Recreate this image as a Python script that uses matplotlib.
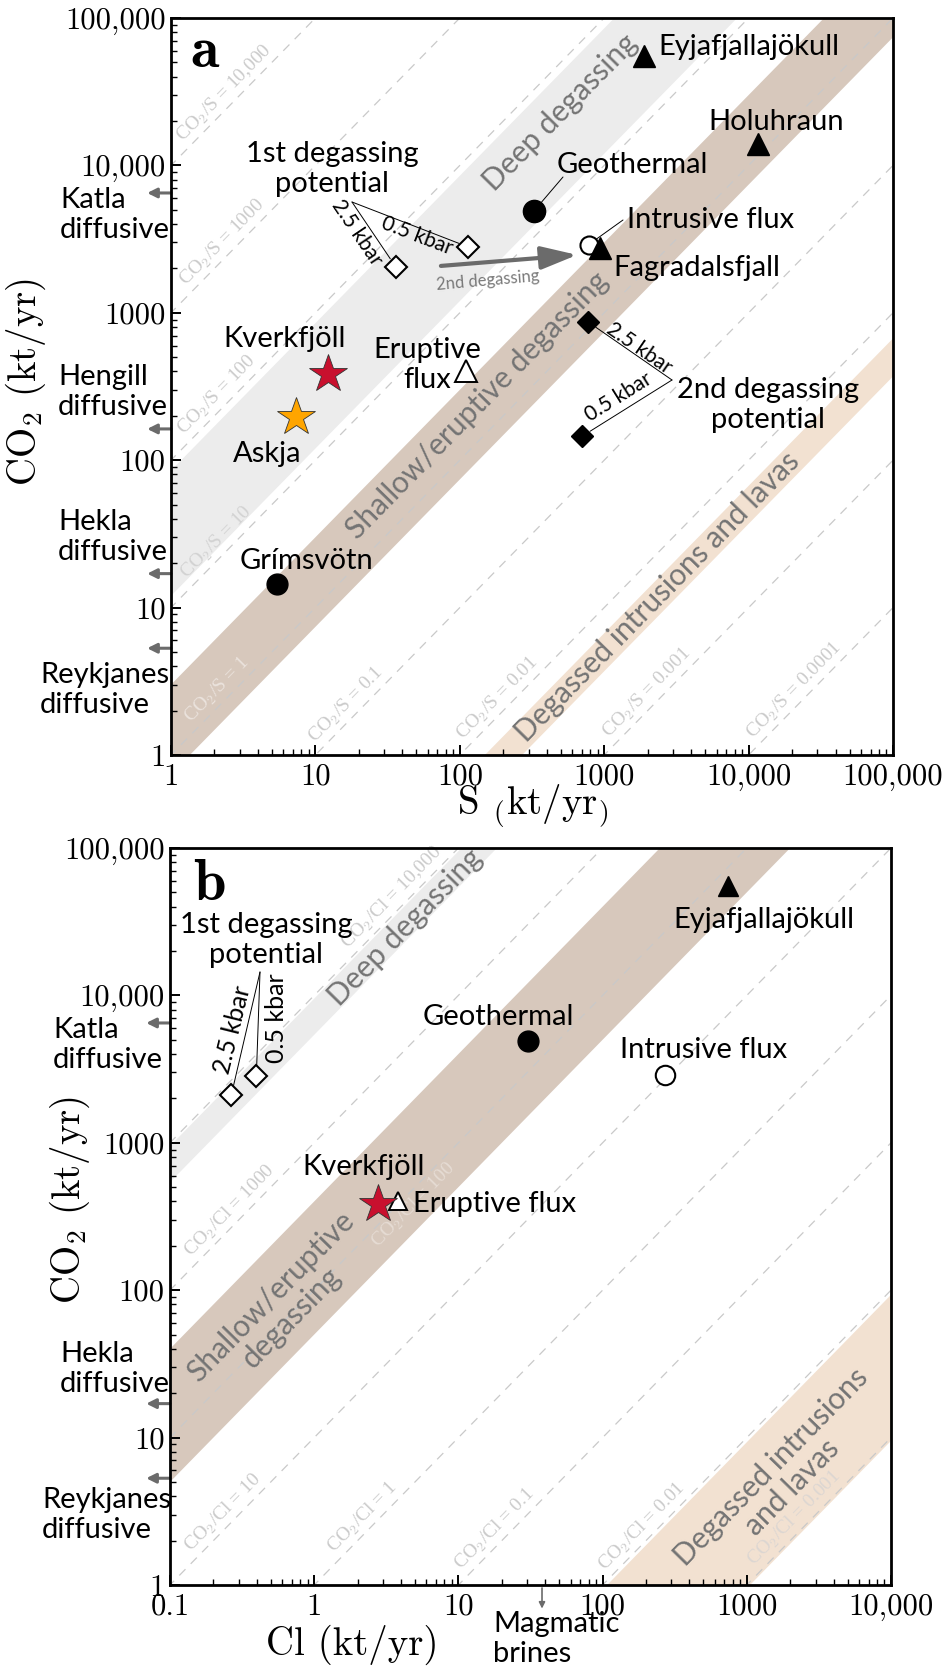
import numpy as np
import matplotlib
matplotlib.use("Agg")
import matplotlib.pyplot as plt
from matplotlib.transforms import Affine2D
from matplotlib.ticker import FixedLocator, FixedFormatter, LogLocator, NullFormatter

plt.rcParams["mathtext.fontset"] = "cm"
plt.rcParams["axes.unicode_minus"] = False

# ---------------- data : panel a (CO2 vs S, kt/yr) ----------------
a_volcano_names = ["Eyjafjallajökull", "Holuhraun", "Fagradalsfjall"]
a_volcano_S = [1900, 11600, 930]
a_volcano_CO2 = [55000, 14000, 2750]
a_geothermal_S, a_geothermal_CO2 = 326, 4900
a_intrusive_S, a_intrusive_CO2 = 780, 2900
a_eruptive_S, a_eruptive_CO2 = 110, 400
a_grimsvotn_S, a_grimsvotn_CO2 = 5.4, 14.5
a_kverkfjoll_S, a_kverkfjoll_CO2 = 12.2, 385
a_askja_S, a_askja_CO2 = 7.3, 195
a_first_pot_S = [36, 114]          # 2.5 kbar, 0.5 kbar
a_first_pot_CO2 = [2050, 2800]
a_second_pot_S = [770, 700]        # 2.5 kbar, 0.5 kbar
a_second_pot_CO2 = [870, 145]
a_diffusive_names = ["Katla\ndiffusive", "Hengill\ndiffusive",
                     "Hekla\ndiffusive", "Reykjanes\ndiffusive"]
a_diffusive_CO2 = [6500, 163, 17, 5.3]
a_ratios = [1e4, 1e3, 1e2, 10, 1, 0.1, 0.01, 0.001, 0.0001]
a_ratio_labels = ["10,000", "1000", "100", "10", "1", "0.1", "0.01", "0.001", "0.0001"]
a_band_deep = [12, 85]
a_band_shallow = [0.74, 3.0]
a_band_degassed = [0.0037, 0.0067]
a_arrow_start = (74, 2080)
a_arrow_end = (650, 2470)

# ---------------- data : panel b (CO2 vs Cl, kt/yr) ----------------
b_eyja_Cl, b_eyja_CO2 = 745, 55000
b_geothermal_Cl, b_geothermal_CO2 = 30.6, 4900
b_intrusive_Cl, b_intrusive_CO2 = 270, 2900
b_kverkfjoll_Cl, b_kverkfjoll_CO2 = 2.76, 385
b_eruptive_Cl, b_eruptive_CO2 = 3.8, 400
b_first_pot_Cl = [0.266, 0.397]    # 2.5 kbar, 0.5 kbar
b_first_pot_CO2 = [2100, 2850]
b_diffusive_names = ["Katla\ndiffusive", "Hekla\ndiffusive", "Reykjanes\ndiffusive"]
b_diffusive_CO2 = [6500, 17, 5.3]
b_brines_Cl = 38
b_ratios = [1e4, 1e3, 1e2, 10, 1, 0.1, 0.01, 0.001]
b_ratio_labels = ["10,000", "1000", "100", "10", "1", "0.1", "0.01", "0.001"]
b_band_deep = [5400, 9500]
b_band_shallow = [50, 400]
b_band_degassed = [0.00095, 0.0093]

y_ticks = [1, 10, 100, 1000, 1e4, 1e5]
y_ticklabels = ["1", "10", "100", "1000", "10,000", "100,000"]
a_x_ticks = [1, 10, 100, 1000, 1e4, 1e5]
a_x_ticklabels = ["1", "10", "100", "1000", "10,000", "100,000"]
b_x_ticks = [0.1, 1, 10, 100, 1000, 1e4]
b_x_ticklabels = ["0.1", "1", "10", "100", "1000", "10,000"]

# ---------------- styling ----------------
SANS = ["Lato", "DejaVu Sans"]
SERIF = ["cmr10", "DejaVu Serif"]
RSERIF = ["Liberation Serif", "DejaVu Serif"]
C_DEEP = "#ececec"
C_SHALLOW = "#d7c8bc"
C_DEGASSED = "#f2e1d1"
C_DASH = "#c9c9c9"
C_BANDTXT = "#747474"
C_ARROW = "#6b6b6b"
C_RLBL = "#cbcbcb"
LBL = 21
BANDSZ = 21.5

W, H = 944, 1679
fig = plt.figure(figsize=(W / 100, H / 100), dpi=100)
pix = Affine2D().scale(1 / W, -1 / H).translate(0, 1) + fig.transFigure


def box(l, t, r, b):
    return [l / W, 1 - b / H, (r - l) / W, (b - t) / H]


def ptext(x, y, s, **kw):
    # for multi-line text with va="baseline", y is the baseline of the LAST line
    kw.setdefault("family", SANS)
    kw.setdefault("fontsize", LBL)
    kw.setdefault("color", "black")
    return fig.text(x, y, s, transform=pix, **kw)


axA = fig.add_axes(box(171, 18, 893, 755))
axB = fig.add_axes(box(170, 848, 891, 1585))


def setup(ax, xlim, xticks, xlabels):
    ax.set_xscale("log")
    ax.set_yscale("log")
    ax.set_xlim(*xlim)
    ax.set_ylim(1, 1e5)
    ax.xaxis.set_major_locator(FixedLocator(xticks))
    ax.xaxis.set_major_formatter(FixedFormatter(xlabels))
    ax.yaxis.set_major_locator(FixedLocator(y_ticks))
    ax.yaxis.set_major_formatter(FixedFormatter(y_ticklabels))
    ax.xaxis.set_minor_locator(LogLocator(base=10, subs=np.arange(2, 10), numticks=20))
    ax.yaxis.set_minor_locator(LogLocator(base=10, subs=np.arange(2, 10), numticks=20))
    ax.xaxis.set_minor_formatter(NullFormatter())
    ax.yaxis.set_minor_formatter(NullFormatter())
    ax.tick_params(which="both", direction="in", top=False, right=False,
                   labelfontfamily="cmr10", labelsize=22, colors="black")
    ax.tick_params(which="major", length=7, width=1.4)
    ax.tick_params(which="minor", length=4.5, width=1.0)
    ax.tick_params(axis="x", pad=6)
    ax.tick_params(axis="y", pad=4)
    for s in ax.spines.values():
        s.set_linewidth(2.0)
        s.set_zorder(10)


setup(axA, (1, 1e5), a_x_ticks, a_x_ticklabels)
setup(axB, (0.1, 1e4), b_x_ticks, b_x_ticklabels)


def line_angle(ax):
    p0 = ax.transData.transform((1, 1))
    p1 = ax.transData.transform((10, 10))
    return np.degrees(np.arctan2(p1[1] - p0[1], p1[0] - p0[0]))


XS = np.array([1e-4, 1e7])


def bands_and_lines(ax, bands, ratios, labels, anchors, offsets, lcolors, name):
    for (lo, hi), c in bands:
        ax.fill_between(XS, lo * XS, hi * XS, color=c, lw=0, zorder=0.5)
    ang = line_angle(ax)
    for r in ratios:
        ax.plot(XS, r * XS, color=C_DASH, lw=0.9, ls=(0, (7, 6)), zorder=1)
    for r, lab, xa, off, lc in zip(ratios, labels, anchors, offsets, lcolors):
        ax.annotate(r"CO$_2$/" + name + " = " + lab, xy=(xa, r * xa), xycoords="data",
                    xytext=off, textcoords="offset points", rotation=ang,
                    rotation_mode="anchor", ha="center", va="center",
                    family=RSERIF, fontsize=14, color=lc, zorder=1.5,
                    annotation_clip=False)
    return ang


# ---------------- panel a ----------------
angA = bands_and_lines(
    axA,
    [(a_band_deep, C_DEEP), (a_band_shallow, C_SHALLOW), (a_band_degassed, C_DEGASSED)],
    a_ratios, a_ratio_labels,
    [2.7, 2.6, 2.4, 2.4, 2.4, 19, 210, 2300, 24000],
    [(-6.5, 6.5)] * 9,
    [C_RLBL, C_RLBL, C_RLBL, "#d2d2d2", "#ebe3dd", C_RLBL, C_RLBL, C_RLBL, C_RLBL],
    "S")

ptext(560, 112, "Deep degassing", rotation=angA, rotation_mode="anchor",
      ha="center", va="center", fontsize=BANDSZ, color=C_BANDTXT)
ptext(477, 405, "Shallow/eruptive degassing", rotation=angA, rotation_mode="anchor",
      ha="center", va="center", fontsize=BANDSZ, color=C_BANDTXT)
ptext(657, 597, "Degassed intrusions and lavas", rotation=angA, rotation_mode="anchor",
      ha="center", va="center", fontsize=BANDSZ, color=C_BANDTXT)

# connectors (panel a)
conn = dict(arrowstyle="-", color="black", lw=0.7, shrinkA=0)
for s, c in zip(a_first_pot_S, a_first_pot_CO2):
    axA.annotate("", xy=(s, c), xytext=(352, 202), textcoords=pix,
                 arrowprops=dict(conn, shrinkB=7), zorder=2.5)
for s, c in zip(a_second_pot_S, a_second_pot_CO2):
    axA.annotate("", xy=(s, c), xytext=(672, 380), textcoords=pix,
                 arrowprops=dict(conn, shrinkB=7), zorder=2.5)
axA.annotate("", xy=(a_geothermal_S, a_geothermal_CO2), xytext=(563, 177), textcoords=pix,
             arrowprops=dict(conn, shrinkB=7), zorder=2.5)
axA.annotate("", xy=(a_intrusive_S, a_intrusive_CO2), xytext=(623, 220), textcoords=pix,
             arrowprops=dict(conn, shrinkB=6), zorder=2.5)

# 2nd degassing arrow
axA.annotate("", xy=a_arrow_end, xytext=a_arrow_start,
             arrowprops=dict(arrowstyle="-|>,head_length=1.1,head_width=0.35",
                             color=C_ARROW, lw=3, mutation_scale=20,
                             shrinkA=0, shrinkB=0), zorder=3)
ptext(488, 281, "2nd degassing", rotation=5, rotation_mode="anchor",
      ha="center", va="center", fontsize=12, color="#7a7a7a")

# markers (panel a)
axA.plot(a_intrusive_S, a_intrusive_CO2, "o", ms=13, mfc="white", mec="black", mew=1.5, zorder=5)
axA.plot(a_volcano_S, a_volcano_CO2, "^", ms=16, color="black", ls="none", zorder=6)
axA.plot(a_geothermal_S, a_geothermal_CO2, "o", ms=16, color="black", zorder=5)
axA.plot(a_grimsvotn_S, a_grimsvotn_CO2, "o", ms=15, color="black", zorder=5)
axA.plot(a_eruptive_S, a_eruptive_CO2, "^", ms=16, mfc="white", mec="black", mew=1.4, zorder=5)
axA.plot(a_first_pot_S, a_first_pot_CO2, "D", ms=11.5, mfc="white", mec="black", mew=1.5,
         ls="none", zorder=5)
axA.plot(a_second_pot_S, a_second_pot_CO2, "D", ms=11.5, color="black", ls="none", zorder=5)
axA.plot(a_kverkfjoll_S, a_kverkfjoll_CO2, "*", ms=29, mfc="#c8102e", mec="#333333",
         mew=0.6, zorder=6)
axA.plot(a_askja_S, a_askja_CO2, "*", ms=29, mfc="#ffa500", mec="#333333", mew=0.6, zorder=6)

# diffusive arrows (panel a)
for v in a_diffusive_CO2:
    axA.annotate("", xy=(-0.033, v), xycoords=("axes fraction", "data"),
                 xytext=(0.0, v), textcoords=("axes fraction", "data"),
                 arrowprops=dict(arrowstyle="-|>", color=C_ARROW, lw=2.2,
                                 mutation_scale=14, shrinkA=0, shrinkB=0),
                 annotation_clip=False)

# labels (panel a)
ptext(190, 67, "a", family=["cmb10", "DejaVu Serif"], fontsize=42, va="baseline")
ptext(658, 55, a_volcano_names[0], va="baseline")
ptext(708, 130, a_volcano_names[1], va="baseline")
ptext(613, 276, a_volcano_names[2], va="baseline")
ptext(557, 173, "Geothermal", va="baseline")
ptext(627, 228, "Intrusive flux", va="baseline")
ptext(332, 192, "1st degassing\npotential", ha="center", va="baseline", multialignment="center")
ptext(768, 428, "2nd degassing\npotential", ha="center", va="baseline", multialignment="center")
ptext(223, 347, "Kverkfjöll", va="baseline")
ptext(427, 388, "Eruptive\nflux", ha="center", va="baseline", multialignment="center")
ptext(233, 462, "Askja", va="baseline")
ptext(240, 569, "Grímsvötn", va="baseline")
ptext(417, 236, "0.5 kbar", rotation=-21, rotation_mode="anchor", ha="center", va="center",
      fontsize=15)
ptext(357, 233, "2.5 kbar", rotation=-56, rotation_mode="anchor", ha="center", va="center",
      fontsize=15)
ptext(639, 348, "2.5 kbar", rotation=-34.6, rotation_mode="anchor", ha="center", va="center",
      fontsize=15)
ptext(619, 397, "0.5 kbar", rotation=32, rotation_mode="anchor", ha="center", va="center",
      fontsize=15)
for name, yb, x in zip(a_diffusive_names, [238, 415, 560, 713], [60, 58, 58, 40]):
    ptext(x, yb, name, va="baseline", ha="left")

ptext(26, 382, r"CO$_2$ (kt/yr)", family=SERIF, fontsize=28, rotation=90,
      ha="center", va="center")
ptext(533, 806, r"S $_($kt/yr$_)$", family=SERIF, fontsize=28, ha="center", va="center")

# ---------------- panel b ----------------
angB = bands_and_lines(
    axB,
    [(b_band_deep, C_DEEP), (b_band_shallow, C_SHALLOW), (b_band_degassed, C_DEGASSED)],
    b_ratios, b_ratio_labels,
    [4.0, 0.3, 4.3, 0.27, 2.5, 20.8, 217, 2480],
    [(-6.5, 6.5), (-6.5, 6.5), (6, -6), (-6.5, 6.5), (-6.5, 6.5), (-6.5, 6.5), (-6.5, 6.5),
     (-6.5, 6.5)],
    [C_RLBL, C_RLBL, "#e6dcd4", C_RLBL, C_RLBL, C_RLBL, C_RLBL, "#dcd6d2"],
    "Cl")

ptext(405, 927, "Deep degassing", rotation=angB, rotation_mode="anchor",
      ha="center", va="center", fontsize=BANDSZ, color=C_BANDTXT)
ptext(281, 1307, "Shallow/eruptive\ndegassing", rotation=angB, rotation_mode="anchor",
      ha="center", va="center", multialignment="center", fontsize=BANDSZ, color=C_BANDTXT,
      linespacing=1.05)
ptext(782, 1477, "Degassed intrusions\nand lavas", rotation=angB, rotation_mode="anchor",
      ha="center", va="center", multialignment="center", fontsize=BANDSZ, color=C_BANDTXT,
      linespacing=1.05)

for cl, c in zip(b_first_pot_Cl, b_first_pot_CO2):
    axB.annotate("", xy=(cl, c), xytext=(260, 972), textcoords=pix,
                 arrowprops=dict(conn, shrinkB=7), zorder=2.5)

axB.plot(b_eyja_Cl, b_eyja_CO2, "^", ms=15, color="black", zorder=6)
axB.plot(b_geothermal_Cl, b_geothermal_CO2, "o", ms=15, color="black", zorder=5)
axB.plot(b_intrusive_Cl, b_intrusive_CO2, "o", ms=14, mfc="white", mec="black", mew=1.5, zorder=5)
axB.plot(b_eruptive_Cl, b_eruptive_CO2, "^", ms=13, mfc="white", mec="black", mew=1.4, zorder=5)
axB.plot(b_kverkfjoll_Cl, b_kverkfjoll_CO2, "*", ms=29, mfc="#c8102e", mec="#333333",
         mew=0.6, zorder=6)
axB.plot(b_first_pot_Cl, b_first_pot_CO2, "D", ms=11.5, mfc="white", mec="black", mew=1.5,
         ls="none", zorder=5)

for v in b_diffusive_CO2:
    axB.annotate("", xy=(-0.033, v), xycoords=("axes fraction", "data"),
                 xytext=(0.0, v), textcoords=("axes fraction", "data"),
                 arrowprops=dict(arrowstyle="-|>", color=C_ARROW, lw=2.2,
                                 mutation_scale=14, shrinkA=0, shrinkB=0),
                 annotation_clip=False)
axB.annotate("", xy=(b_brines_Cl, -0.032), xycoords=("data", "axes fraction"),
             xytext=(b_brines_Cl, -0.004), textcoords=("data", "axes fraction"),
             arrowprops=dict(arrowstyle="-|>", color=C_ARROW, lw=1.2,
                             mutation_scale=9, shrinkA=0, shrinkB=0),
             annotation_clip=False)

ptext(193, 900, "b", family=["cmb10", "DejaVu Serif"], fontsize=42, va="baseline")
ptext(673, 928, "Eyjafjallajökull", va="baseline")
ptext(423, 1025, "Geothermal", va="baseline")
ptext(620, 1058, "Intrusive flux", va="baseline")
ptext(302, 1175, "Kverkfjöll", va="baseline")
ptext(413, 1212, "Eruptive flux", va="baseline")
ptext(266, 963, "1st degassing\npotential", ha="center", va="baseline", multialignment="center")
ptext(233, 1030, "2.5 kbar", rotation=76, rotation_mode="anchor", ha="center", va="center",
      fontsize=18)
ptext(277, 1018, "0.5 kbar", rotation=90, rotation_mode="anchor", ha="center", va="center",
      fontsize=18)
for name, yb, x in zip(b_diffusive_names, [1068, 1392, 1538], [53, 60, 42]):
    ptext(x, yb, name, va="baseline", ha="left")
ptext(493, 1662, "Magmatic\nbrines", va="baseline", ha="left")

ptext(70, 1200, r"CO$_2$ (kt/yr)", family=SERIF, fontsize=28, rotation=90,
      ha="center", va="center")
ptext(352, 1645, "Cl (kt/yr)", family=SERIF, fontsize=28, ha="center", va="center")

fig.savefig("out.png", dpi=100)
